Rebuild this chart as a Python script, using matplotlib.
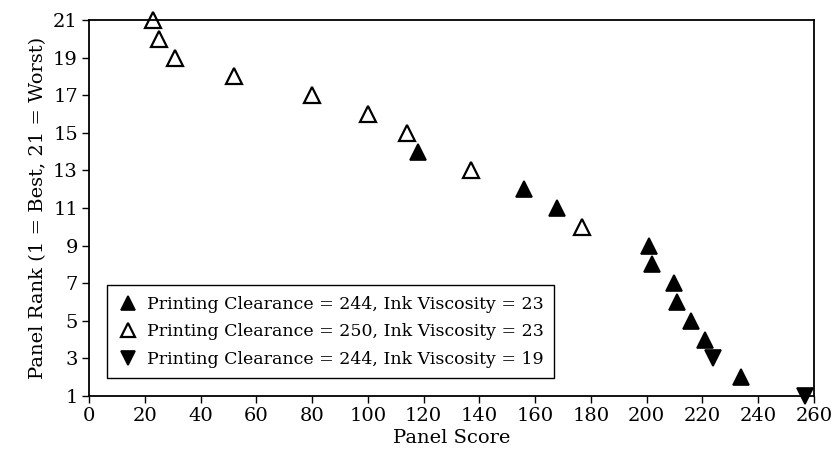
import matplotlib
matplotlib.use("Agg")
import matplotlib.pyplot as plt

plt.rcParams['font.family'] = ['DejaVu Serif']

# panel scores / ranks per print setting
score_244_23 = [118, 156, 168, 201, 202, 210, 211, 216, 221, 234]
rank_244_23 = [14, 12, 11, 9, 8, 7, 6, 5, 4, 2]
score_250_23 = [23, 25, 31, 52, 80, 100, 114, 137, 177]
rank_250_23 = [21, 20, 19, 18, 17, 16, 15, 13, 10]
score_244_19 = [224, 257]
rank_244_19 = [3, 1]

labels = ['Printing Clearance = 244, Ink Viscosity = 23',
          'Printing Clearance = 250, Ink Viscosity = 23',
          'Printing Clearance = 244, Ink Viscosity = 19']

fig = plt.figure(figsize=(8.35, 4.66), dpi=100)
ax = fig.add_axes([0.1066, 0.150, 0.868, 0.807])

ax.plot(score_244_23, rank_244_23, '^', color='black', ms=11, mew=1.2,
        linestyle='none', label=labels[0], clip_on=False)
ax.plot(score_250_23, rank_250_23, '^', mfc='white', mec='black', ms=11, mew=1.6,
        linestyle='none', label=labels[1], clip_on=False)
ax.plot(score_244_19, rank_244_19, 'v', color='black', ms=11, mew=1.2,
        linestyle='none', label=labels[2], clip_on=False)

ax.set_xlim(0, 260)
ax.set_ylim(1, 21)
ax.set_xticks(range(0, 261, 20))
ax.set_yticks(range(1, 22, 2))
ax.tick_params(direction='out', length=5, width=1, labelsize=14, pad=3)
for s in ax.spines.values():
    s.set_linewidth(1.3)

ax.set_xlabel('Panel Score', fontsize=14, labelpad=3)
ax.set_ylabel('Panel Rank (1 = Best, 21 = Worst)', fontsize=14, labelpad=4)

leg = ax.legend(loc='lower left', bbox_to_anchor=(0.025, 0.048), borderaxespad=0,
                fontsize=12.5, frameon=True, fancybox=False, edgecolor='black',
                framealpha=1, handletextpad=0.5, borderpad=0.6, labelspacing=0.6,
                handlelength=1.2, markerscale=0.9)
leg.get_frame().set_linewidth(1.0)

fig.savefig('out.png', dpi=100)
